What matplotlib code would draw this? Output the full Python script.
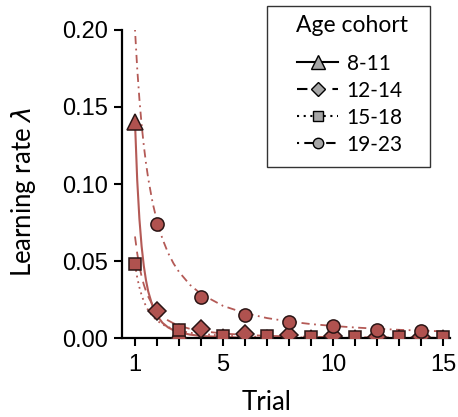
import matplotlib
matplotlib.use("Agg")
import matplotlib.pyplot as plt
from matplotlib.lines import Line2D
from matplotlib.patches import Rectangle

# ---- data ---------------------------------------------------------------
COHORTS = ["8-11", "12-14", "15-18", "19-23"]

# observed points (odd / even trials)
ODD_TRIALS = [1, 3, 5, 7, 9, 11, 13, 15]
EVEN_TRIALS = [2, 4, 6, 8, 10, 12, 14]
pts_8_11 = [0.140, 0.004, 0.0008, 0.0003, 0.0002, 0.0002, 0.0001, 0.0001]
pts_15_18 = [0.048, 0.0055, 0.0015, 0.0012, 0.0010, 0.0010, 0.0010, 0.0010]
pts_12_14 = [0.018, 0.006, 0.0025, 0.0020, 0.0015, 0.0010, 0.0010]
pts_19_23 = [0.074, 0.027, 0.015, 0.0106, 0.0078, 0.0056, 0.0045]

# fitted curves
CURVE_T = [1, 1.1, 1.2, 1.3, 1.4, 1.5, 1.6, 1.8, 2, 2.25, 2.5, 2.75, 3, 3.5,
           4, 5, 6, 7, 8, 9, 10, 11, 12, 13, 14, 15]
fit_8_11 = [0.140, 0.1027, 0.0774, 0.0597, 0.0469, 0.0375, 0.0304, 0.0207,
            0.0147, 0.0100, 0.0071, 0.0052, 0.0039, 0.0024, 0.0015, 0.0008,
            0.0004, 0.0003, 0.0002, 0.0001, 0.0001, 0.0, 0.0, 0.0, 0.0, 0.0]
fit_12_14 = [0.066, 0.0551, 0.0467, 0.0401, 0.0348, 0.0305, 0.0270, 0.0216,
             0.0177, 0.0141, 0.0116, 0.0097, 0.0082, 0.0061, 0.0047, 0.0031,
             0.0022, 0.0016, 0.0013, 0.0010, 0.0008, 0.0007, 0.0006, 0.0005,
             0.00044, 0.00038]
fit_15_18 = [0.048, 0.0394, 0.0330, 0.0280, 0.0240, 0.0208, 0.0182, 0.0143,
             0.0115, 0.0090, 0.0073, 0.0060, 0.0050, 0.0036, 0.0028, 0.0017,
             0.0012, 0.0009, 0.0007, 0.0005, 0.0004, 0.0003, 0.0003, 0.0003,
             0.0002, 0.0002]
fit_19_23 = [0.200, 0.175, 0.155, 0.1385, 0.1249, 0.1134, 0.1036, 0.0878,
             0.0758, 0.0643, 0.0554, 0.0485, 0.0430, 0.0346, 0.0287, 0.0210,
             0.0163, 0.0131, 0.0109, 0.0092, 0.0080, 0.0070, 0.0062, 0.0055,
             0.0050, 0.0045]

X_TICKS = list(range(1, 16))
X_LABELS = ["1", "", "", "", "5", "", "", "", "", "10", "", "", "", "", "15"]
Y_TICKS = [0.0, 0.05, 0.10, 0.15, 0.20]

# ---- style --------------------------------------------------------------
RED = "#b0524f"
LINE_RED = "#b45a56"
EDGE = "#2a1515"
GRAY = "#a6a6a6"
LABEL_FONT = ["Lato", "DejaVu Sans"]
TICK_FONT = "Liberation Sans"

STYLES = {
    "8-11": dict(ls="-", marker="^", ms=12, lms=9.5),
    "12-14": dict(ls=(0, (5, 3.5)), marker="D", ms=9, lms=7),
    "15-18": dict(ls=(0, (1, 2.2)), marker="s", ms=8.5, lms=6.5),
    "19-23": dict(ls=(0, (1, 2.5, 4.5, 2.5)), marker="o", ms=9.5, lms=7.5),
}

W, H = 458, 417


def fx(x):
    return x / W


def fy(y):
    return 1 - y / H


fig = plt.figure(figsize=(4.58, 4.17), dpi=100)
ax = fig.add_axes([0.267, 0.1887, 0.7155, 0.7401])

curves = [("8-11", fit_8_11, 1.5), ("12-14", fit_12_14, 1.3),
          ("15-18", fit_15_18, 1.3), ("19-23", fit_19_23, 1.3)]
for name, vals, lw in curves:
    ax.plot(CURVE_T, vals, color=LINE_RED, lw=lw, ls=STYLES[name]["ls"], zorder=2)

points = [("8-11", ODD_TRIALS, pts_8_11), ("15-18", ODD_TRIALS, pts_15_18),
          ("12-14", EVEN_TRIALS, pts_12_14), ("19-23", EVEN_TRIALS, pts_19_23)]
for name, xs, ys in points:
    st = STYLES[name]
    ax.plot(xs, ys, ls="none", marker=st["marker"], ms=st["ms"],
            mfc=RED, mec=EDGE, mew=1.1, zorder=3)

ax.set_xlim(0.423, 15.3)
ax.set_ylim(0, 0.20)
ax.set_xticks(X_TICKS)
ax.set_xticklabels(X_LABELS)
ax.set_yticks(Y_TICKS)
ax.set_yticklabels([f"{v:.2f}" for v in Y_TICKS])
for lab in ax.get_xticklabels() + ax.get_yticklabels():
    lab.set_fontfamily(TICK_FONT)
    lab.set_fontsize(17)
ax.tick_params(axis="both", length=5.5, width=1.5, color="black")
ax.tick_params(axis="x", pad=6)
ax.tick_params(axis="y", pad=5)
for side in ["top", "right"]:
    ax.spines[side].set_visible(False)
for side in ["left", "bottom"]:
    ax.spines[side].set_linewidth(1.6)

fig.text(fx(266.5), fy(410), "Trial", family=LABEL_FONT, fontsize=18.5,
         ha="center", va="baseline")
fig.text(fx(24), fy(191.5), "Learning rate $\\lambda$", family=LABEL_FONT,
         fontsize=18.5, ha="center", va="center", rotation=90)

# legend, placed by hand in figure pixels
fig.patches.append(Rectangle((fx(267), fy(167)), 163 / W, 161 / H,
                             transform=fig.transFigure, fill=False,
                             edgecolor="#333333", lw=1.0))
fig.text(fx(351.7), fy(31.5), "Age cohort", family=LABEL_FONT, fontsize=16.5,
         ha="center", va="baseline")
row_y = [62, 89, 116, 143]
for name, ry in zip(COHORTS, row_y):
    st = STYLES[name]
    fig.add_artist(Line2D([fx(296.7), fx(338.3)], [fy(ry), fy(ry)],
                          transform=fig.transFigure, color="black", lw=1.5,
                          ls=st["ls"]))
    fig.add_artist(Line2D([fx(317.5)], [fy(ry)], transform=fig.transFigure,
                          ls="none", marker=st["marker"], ms=st["lms"],
                          mfc=GRAY, mec="black", mew=1.0))
    fig.text(fx(346.7), fy(ry), name, family=LABEL_FONT, fontsize=15,
             ha="left", va="center_baseline")

fig.savefig("out.png", dpi=100)
